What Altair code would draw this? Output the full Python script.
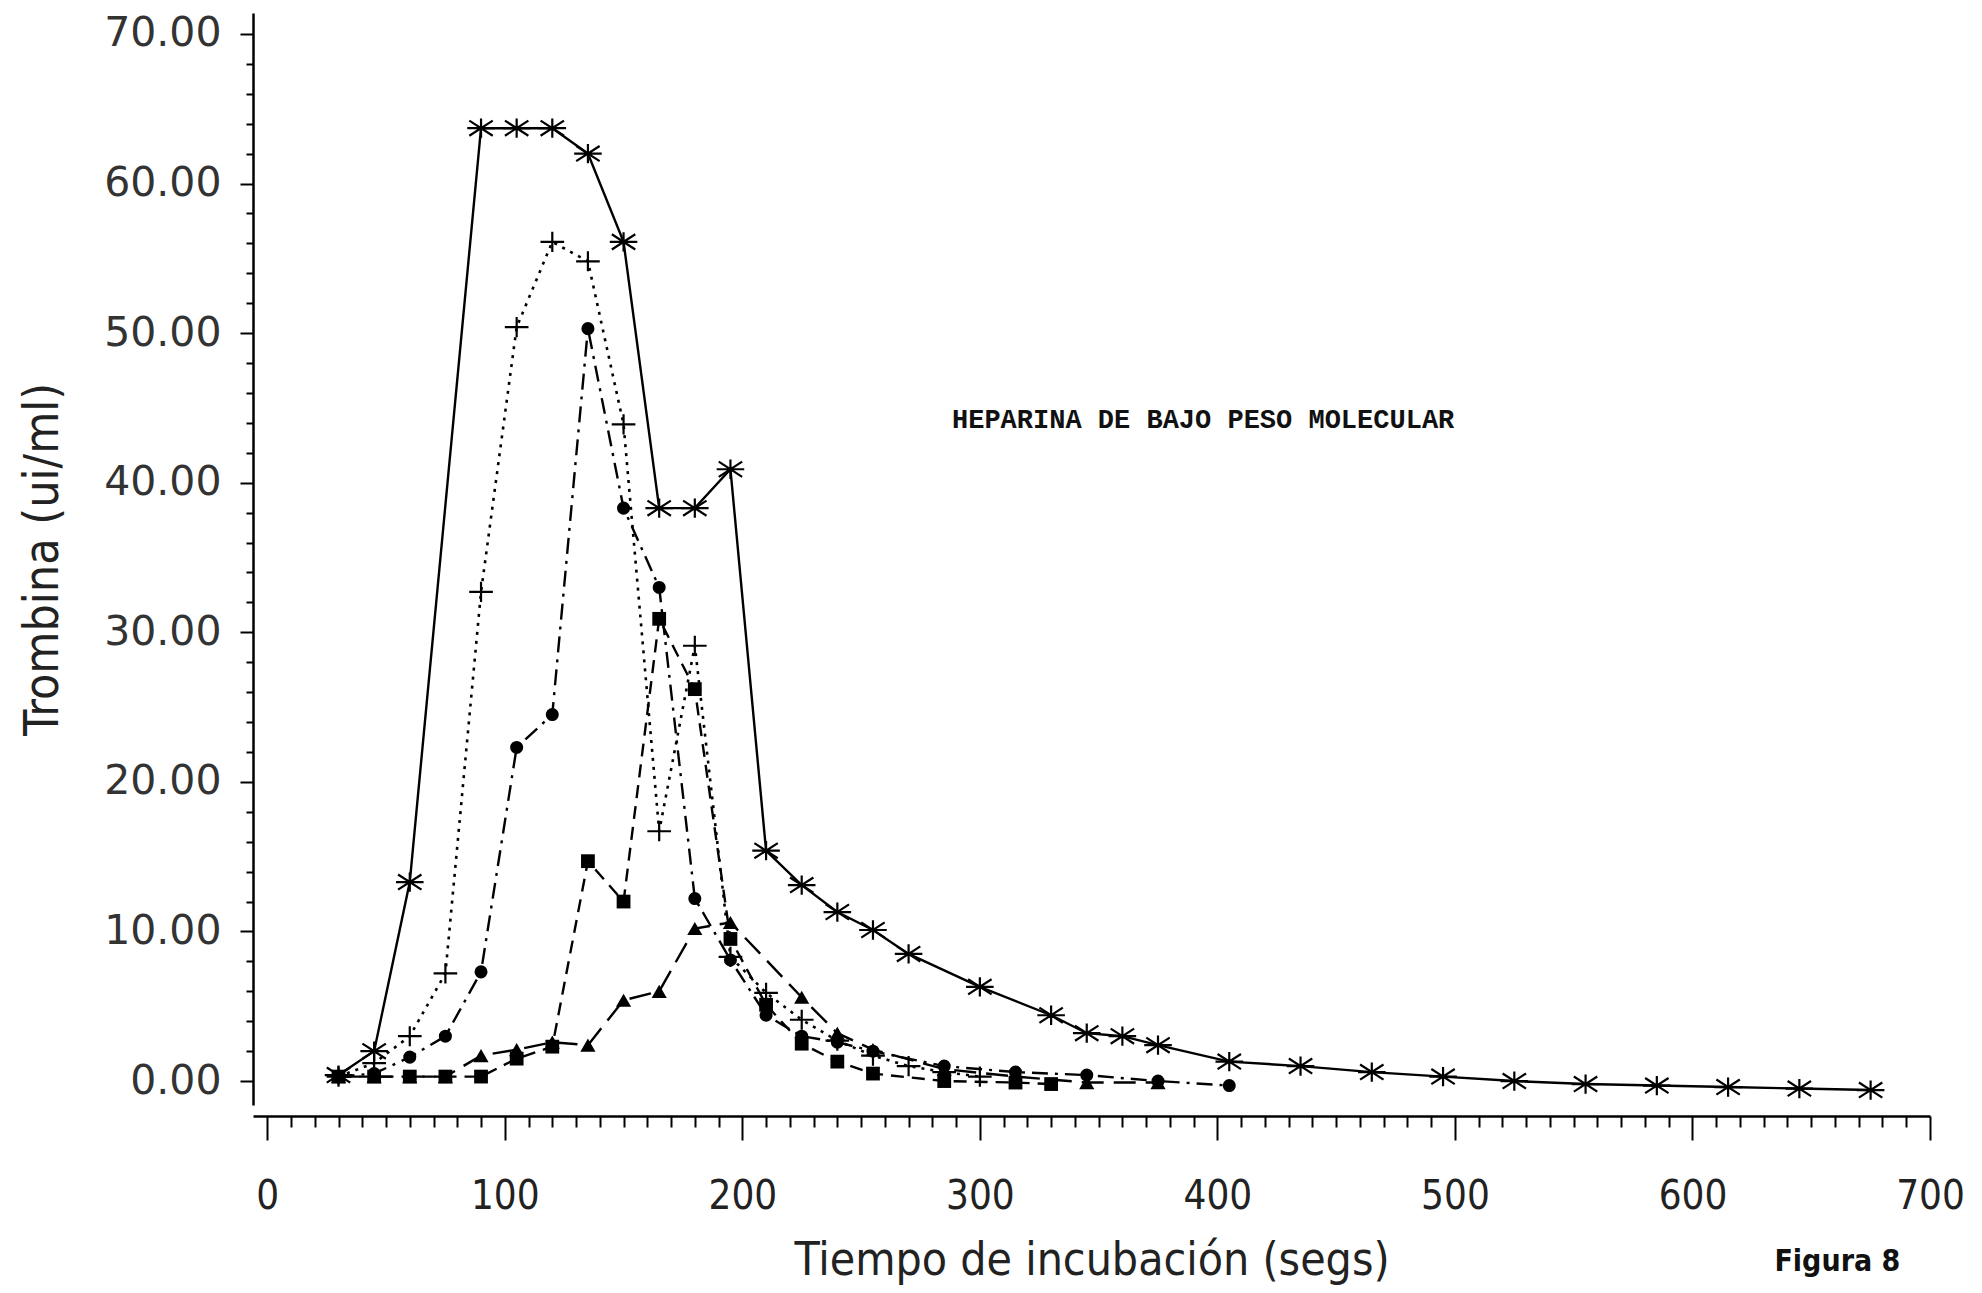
import altair as alt
import pandas as pd

# ---- data ----
t_star = [30, 45, 60, 90, 105, 120, 135, 150, 165, 180, 195, 210, 225, 240, 255, 270,
          300, 330, 345, 360, 375, 405, 435, 465, 495, 525, 555, 585, 615, 645, 675]
v_star = [0.4, 2.0, 13.3, 63.7, 63.7, 63.7, 62.0, 56.1, 38.3, 38.3, 40.9, 15.4, 13.1, 11.3,
          10.1, 8.5, 6.3, 4.4, 3.2, 3.0, 2.4, 1.3, 1.0, 0.6, 0.3, 0.0, -0.2, -0.3, -0.4, -0.5, -0.6]

t_plus = [30, 45, 60, 75, 90, 105, 120, 135, 150, 165, 180, 195, 210, 225, 240, 255, 270, 285, 300]
v_plus = [0.3, 1.2, 3.0, 7.2, 32.7, 50.4, 56.1, 54.8, 43.9, 16.7, 29.1, 8.3, 5.9, 4.1, 2.7,
          1.7, 1.0, 0.6, 0.3]

t_circ = [30, 45, 60, 75, 90, 105, 120, 135, 150, 165, 180, 195, 210, 225, 240, 255,
          285, 315, 345, 375, 405]
v_circ = [0.3, 0.5, 1.6, 3.0, 7.3, 22.3, 24.5, 50.3, 38.3, 33.0, 12.2, 8.1, 4.4, 3.0, 2.6,
          2.0, 1.0, 0.6, 0.4, 0.0, -0.3]

t_sq = [30, 45, 60, 75, 90, 105, 120, 135, 150, 165, 180, 195, 210, 225, 240, 255, 285, 315, 330]
v_sq = [0.3, 0.3, 0.3, 0.3, 0.3, 1.5, 2.3, 14.7, 12.0, 30.9, 26.2, 9.5, 5.1, 2.5, 1.3,
        0.5, 0.0, -0.1, -0.2]

t_tri = [30, 45, 60, 75, 90, 105, 120, 135, 150, 165, 180, 195, 225, 240, 255, 285, 315, 345, 375]
v_tri = [0.3, 0.3, 0.3, 0.3, 1.7, 2.1, 2.6, 2.4, 5.4, 6.0, 10.2, 10.6, 5.6, 3.2, 2.1,
         0.8, 0.3, -0.1, -0.1]

x_ticks = list(range(0, 701, 10))
y_ticks = list(range(0, 71, 2))

title_x = "Tiempo de incubación (segs)"
title_y = "Trombina (ui/ml)"
note = "HEPARINA DE BAJO PESO MOLECULAR"
fig = "Figura 8"

NARROW = "DejaVu Sans Condensed, DejaVu Sans, sans-serif"

# ---- encodings ----
x_enc = alt.X(
    "t:Q",
    scale=alt.Scale(domain=[-6, 700], nice=False, zero=False),
    axis=alt.Axis(
        values=x_ticks, tickCount=500,
        labelExpr="datum.value % 100 === 0 ? format(datum.value, 'd') : ''",
        tickSize={"condition": {"test": "datum.value % 100 === 0", "value": 24}, "value": 11},
        labelFontSize={"condition": {"test": "datum.value % 100 === 0", "value": 40}, "value": 0},
        tickColor="black", tickWidth=2, domainColor="black", domainWidth=2.5,
        offset=11, grid=False,
        labelFont=NARROW, labelFontWeight=300, labelColor="#222",
        labelPadding=36, labelFlush=False, labelOverlap=False, labelBound=False,
        title=title_x, titleFont=NARROW, titleFontSize=46,
        titleFontWeight="normal", titleColor="#222", titlePadding=22,
    ),
)
y_enc = alt.Y(
    "v:Q",
    scale=alt.Scale(domain=[-1.6, 71.4], nice=False, zero=False),
    axis=alt.Axis(
        values=y_ticks, tickCount=500,
        labelExpr="datum.value % 10 === 0 ? format(datum.value, '.2f') : ''",
        tickSize={"condition": {"test": "datum.value % 10 === 0", "value": 13}, "value": 7},
        labelFontSize={"condition": {"test": "datum.value % 10 === 0", "value": 41}, "value": 0},
        tickColor="black", tickWidth=2, domainColor="black", domainWidth=2.5,
        grid=False,
        labelFont="DejaVu Sans", labelColor="#333",
        labelPadding=19, labelOverlap=False, labelBound=False,
        title=title_y, titleFont=NARROW, titleFontSize=48,
        titleFontWeight="normal", titleColor="#222", titlePadding=36,
    ),
)

STAR = "M-1,0L1,0M-0.85,-0.55L0.85,0.55M-0.85,0.55L0.85,-0.55M0,-0.7L0,0.7"
PLUS = "M-1,0L1,0M0,-0.85L0,0.85"


def series(t, v, dash, shape, size, filled, width=2.2):
    df = pd.DataFrame({"t": t, "v": v})
    base = alt.Chart(df)
    line_kw = dict(color="black", strokeWidth=width, clip=False)
    if dash:
        line_kw["strokeDash"] = dash
    line = base.mark_line(**line_kw).encode(x=x_enc, y=y_enc)
    if filled:
        pts = base.mark_point(shape=shape, size=size, filled=True, color="black",
                              opacity=1).encode(x=x_enc, y=y_enc)
    else:
        pts = base.mark_point(shape=shape, size=size, filled=False, color="black",
                              strokeWidth=2.2, opacity=1).encode(x=x_enc, y=y_enc)
    return [line, pts]


layers = []
layers += series(t_star, v_star, None, STAR, 760, False, 2.4)
layers += series(t_plus, v_plus, [3, 6], PLUS, 560, False, 2.6)
layers += series(t_circ, v_circ, [16, 7, 3, 7], "circle", 170, True, 2.4)
layers += series(t_sq, v_sq, [13, 8], "square", 190, True, 2.4)
layers += series(t_tri, v_tri, [22, 10], "triangle-up", 230, True, 2.4)

note_layer = alt.Chart(pd.DataFrame({"k": [0]})).mark_text(
    font="Liberation Mono", fontSize=27, fontWeight="bold", color="#111", align="center",
    baseline="middle"
).encode(x=alt.datum(394), y=alt.datum(44.2), text=alt.value(note))

fig_layer = alt.Chart(pd.DataFrame({"k": [0]})).mark_text(
    font=NARROW, fontSize=30, fontWeight="bold", color="#111",
    align="center", baseline="middle"
).encode(x=alt.datum(661), y=alt.datum(-12.1), text=alt.value(fig))

chart = alt.layer(*layers, note_layer, fig_layer).properties(
    width=1677, height=1092,
    autosize=alt.AutoSizeParams(type="none"),
    padding={"left": 245, "top": 5, "right": 40, "bottom": 185},
    background="white",
).configure_view(stroke=None)

chart.save("out.html", embed_options={"renderer": "svg", "actions": False})
